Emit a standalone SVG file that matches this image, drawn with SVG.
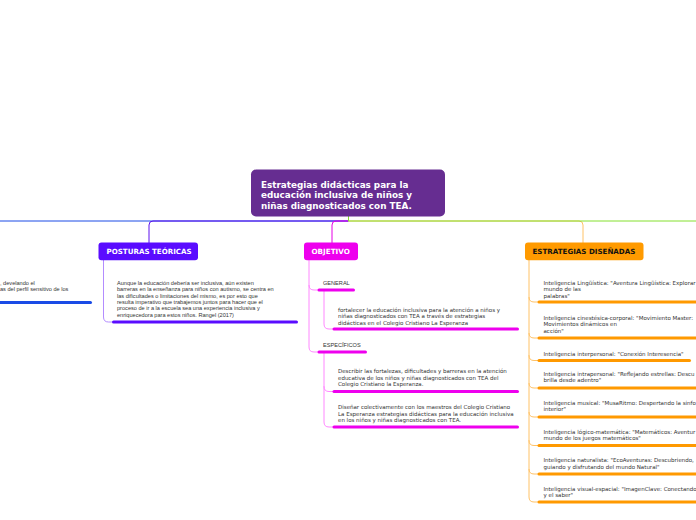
<svg xmlns="http://www.w3.org/2000/svg" width="696" height="520" viewBox="0 0 696 520">
<style>
.t{font-family:"Liberation Sans",Arial,sans-serif;font-size:5.6px;fill:#333}
.d{font-family:"DejaVu Sans",Verdana,sans-serif;font-size:5.5px;fill:#333}
.h{font-family:"DejaVu Sans",Verdana,sans-serif;font-weight:bold;font-size:7.1px}
.c{fill:none;stroke-width:1}
.u{fill:none;stroke-width:3;stroke-linecap:round}
</style>
<rect width="696" height="520" fill="#fff"/>
<g id="connectors">
  <path class="c" d="M348.5 221H0" stroke="#1a4be6" stroke-width="1.3"/>
  <path class="c" d="M348.5 221H153Q149 221 149 225V243" stroke="#5d10ee" stroke-width="1.3"/>
  <path class="c" d="M348.5 221H336Q332 221 332 225V243" stroke="#e600e6" stroke-width="1.3"/>
  <path class="c" d="M348.5 221H579Q583 221 583 225V243" stroke="#ffc266" stroke-width="1.3"/>
  <path class="c" d="M348.5 216V221H696" stroke="#84e02f" stroke-width="1.3"/>
  <path class="c" d="M103.5 260V317Q103.5 322 108.5 322H113" stroke="#b38cff"/>
  <path class="c" d="M309 260V285Q309 290 314 290H318M309 285V347Q309 352 314 352H318" stroke="#ff88ff"/>
  <path class="c" d="M324 290V324Q324 329 329 329H333" stroke="#ff88ff"/>
  <path class="c" d="M324 352V386.5Q324 391.5 329 391.5H333M324 386V422Q324 427 329 427H333" stroke="#ff88ff"/>
  <path class="c" d="M529 260V297Q529 302 534 302H538M529 297V333Q529 338 534 338H538M529 333V355.5Q529 360.5 534 360.5H538M529 355V383Q529 388 534 388H538M529 383V412Q529 417 534 417H538M529 412V440.5Q529 445.5 534 445.5H538M529 440V469Q529 474 534 474H538M529 469V497Q529 502 534 502H538" stroke="#ffc266"/>
</g>
<g id="root">
  <rect x="251" y="169.5" width="194" height="47" rx="5" fill="#662d91"/>
  <text class="h" style="font-size:8.8px" fill="#fff"><tspan x="261" y="187.5">Estrategias didácticas para la</tspan><tspan x="261" y="198">educación inclusiva de niños y</tspan><tspan x="261" y="208.5">niñas diagnosticados con TEA.</tspan></text>
</g>
<g id="left-branch">
  <text class="t"><tspan x="0" y="284.5">, develando el</tspan><tspan x="0" y="291">as del perfil sensitivo de los</tspan></text>
  <path class="u" d="M-2 302.5H90.5" stroke="#1a4be6"/>
</g>
<g id="posturas">
  <rect x="98.5" y="242.5" width="99.5" height="17.8" rx="3" fill="#5a0cff"/>
  <text class="h" x="106.5" y="254.3" fill="#fff">POSTURAS TEÓRICAS</text>
  <text class="t"><tspan x="117" y="284.7">Aunque la educación debería ser inclusiva, aún existen</tspan><tspan x="117" y="291.1">barreras en la enseñanza para niños con autismo, se centra en</tspan><tspan x="117" y="297.5">las dificultades o limitaciones del mismo, es por esto que</tspan><tspan x="117" y="303.9">resulta imperativo que trabajemos juntos para hacer que el</tspan><tspan x="117" y="310.3">proceso de ir a la escuela sea una experiencia inclusiva y</tspan><tspan x="117" y="316.7">enriquecedora para estos niños. Rangel (2017)</tspan></text>
  <path class="u" d="M113.5 322H296.5" stroke="#5a0cff"/>
</g>
<g id="objetivo">
  <rect x="304" y="242.5" width="54" height="17.8" rx="3" fill="#ee00ee"/>
  <text class="h" x="311.5" y="254.3" fill="#fff" style="font-size:7.2px">OBJETIVO</text>
</g>
<g id="general">
  <text class="t" x="323" y="284.7">GENERAL</text>
  <path class="u" d="M319 290H353.5" stroke="#ee00ee"/>
  <text class="d"><tspan x="338" y="312">fortalecer la educación inclusiva para la atención a niños y</tspan><tspan x="338" y="318.3">niñas diagnosticados con TEA a través de estrategias</tspan><tspan x="338" y="324.7">didácticas en el Colegio Cristiano La Esperanza</tspan></text>
  <path class="u" d="M334 329H517.5" stroke="#ee00ee"/>
</g>
<g id="especificos">
  <text class="t" x="323" y="347">ESPECÍFICOS</text>
  <path class="u" d="M319 352H365.5" stroke="#ee00ee"/>
  <text class="d"><tspan x="338" y="373.3">Describir las fortalezas, dificultades y barreras en la atención</tspan><tspan x="338" y="379.8">educativa de los niños y niñas diagnosticados con TEA del</tspan><tspan x="338" y="386.3">Colegio Cristiano la Esperanza.</tspan></text>
  <path class="u" d="M334 391.5H517.5" stroke="#ee00ee"/>
  <text class="d"><tspan x="338" y="409">Diseñar colectivamente con los maestros del Colegio Cristiano</tspan><tspan x="338" y="415.5">La Esperanza estrategias didácticas para la educación inclusiva</tspan><tspan x="338" y="422">en los niños y niñas diagnosticados con TEA.</tspan></text>
  <path class="u" d="M334 427H517.5" stroke="#ee00ee"/>
</g>
<g id="estrategias">
  <rect x="525" y="242.5" width="118.5" height="17.8" rx="3" fill="#ff9a00"/>
  <text class="h" x="532.5" y="254.3" fill="#111">ESTRATEGIAS DISEÑADAS</text>
</g>
<g id="items">
  <text class="d"><tspan x="543.5" y="285">Inteligencia Lingüística: "Aventura Lingüística: Explorar</tspan><tspan x="543.5" y="291.3">mundo de las</tspan><tspan x="543.5" y="297.6">palabras"</tspan></text>
  <path class="u" d="M539 302H700" stroke="#ff9900"/>
  <text class="d"><tspan x="543.5" y="320">Inteligencia cinestésica-corporal: "Movimiento Master:</tspan><tspan x="543.5" y="326.3">Movimientos dinámicos en</tspan><tspan x="543.5" y="332.7">acción"</tspan></text>
  <path class="u" d="M539 338H700" stroke="#ff9900"/>
  <text class="d" x="543.5" y="355.5">Inteligencia interpersonal: "Conexión Interesencia"</text>
  <path class="u" d="M539 360.5H689.5" stroke="#ff9900"/>
  <text class="d"><tspan x="543.5" y="376">Inteligencia intrapersonal: "Reflejando estrellas: Descu</tspan><tspan x="543.5" y="382.4">brilla desde adentro"</tspan></text>
  <path class="u" d="M539 388H700" stroke="#ff9900"/>
  <text class="d"><tspan x="543.5" y="405">Inteligencia musical: "MusaRitmo: Despertando la sinfo</tspan><tspan x="543.5" y="411.4">interior"</tspan></text>
  <path class="u" d="M539 417H700" stroke="#ff9900"/>
  <text class="d"><tspan x="543.5" y="433.6">Inteligencia lógico-matemática: "Matemáticos: Aventur</tspan><tspan x="543.5" y="440">mundo de los juegos matemáticos"</tspan></text>
  <path class="u" d="M539 445.5H700" stroke="#ff9900"/>
  <text class="d"><tspan x="543.5" y="462.4">Inteligencia naturalista: "EcoAventuras: Descubriendo,</tspan><tspan x="543.5" y="468.8">guiando y disfrutando del mundo Natural"</tspan></text>
  <path class="u" d="M539 474H700" stroke="#ff9900"/>
  <text class="d"><tspan x="543.5" y="490.5">Inteligencia visual-espacial: "ImagenClave: Conectando</tspan><tspan x="543.5" y="496.9">y el saber"</tspan></text>
  <path class="u" d="M539 502H700" stroke="#ff9900"/>
</g>
</svg>
